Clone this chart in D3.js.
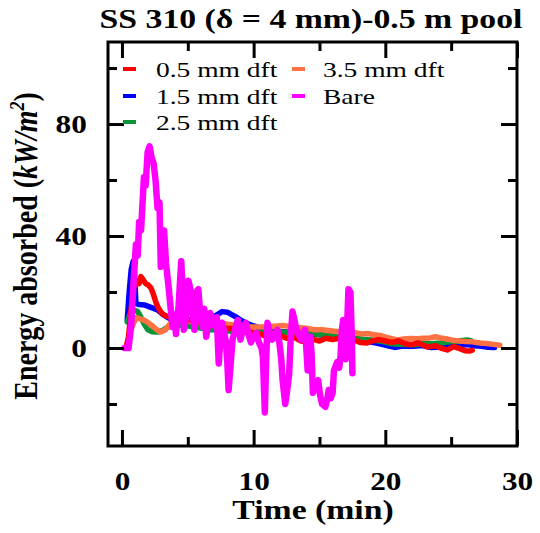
<!DOCTYPE html>
<html>
<head>
<meta charset="utf-8">
<script src="https://cdn.jsdelivr.net/npm/d3@7"></script>
<style>
  body { margin: 0; background: #fff; }
  svg text { font-family: "Liberation Serif", "Times New Roman", serif; fill: #000; }
</style>
</head>
<body>
<script>
// ---------------------- DATA ----------------------
// [time (min), energy absorbed (kW/m2)]
const dft05 = [[0.3,0],[0.5,4],[0.7,14],[0.9,22],[1.1,24],[1.3,23],[1.44,25.5],[1.6,24.5],[1.8,23],[2.0,22.5],[2.2,21.5],[2.4,19],[2.6,16],[2.8,14],[3.0,12.5],[3.3,11.5],[3.7,11],[4.2,11],[4.7,10.5],[5.2,10],[5.8,9.5],[6.5,9],[7.0,8],[7.5,7.5],[8.0,7],[8.5,7],[9.0,6.5],[9.5,6],[10,5.5],[10.5,5],[11,4],[11.5,4.5],[12,4.5],[12.5,3.5],[13,4],[13.6,2.5],[14.0,2.2],[14.6,3],[15,2.5],[15.5,3.5],[16,3],[16.5,3.5],[17.1,3.5],[17.6,3],[18.1,2],[18.6,1.8],[19,2.5],[19.5,3],[20,2.5],[20.5,2],[21,2.5],[21.5,1.5],[22,1.2],[22.5,1.8],[23.2,0.4],[23.8,0.8],[24.2,0],[24.7,-0.7],[25.2,0.5],[25.7,-0.3],[26.1,-1],[26.4,-1.1],[26.6,-0.8]];
const dft15 = [[0.4,10],[0.55,20],[0.7,28],[0.85,31],[0.95,27],[1.06,16],[1.3,15.5],[1.7,15.4],[2.2,14.5],[2.7,13.6],[3.1,12],[3.5,10.8],[4.2,9.3],[5.0,9],[5.8,9.3],[6.3,9.5],[6.7,10],[7.1,11.5],[7.6,13],[8.0,12.8],[8.3,12],[8.7,11],[9.0,10],[9.4,9],[9.8,8.2],[10.4,7.3],[11,6.5],[11.6,6],[12.2,5.8],[13,5.5],[13.6,5.3],[14.3,5],[15,4.7],[15.7,4.3],[16.5,3.8],[17.2,3.2],[18,2.6],[18.8,2.2],[19.5,1.6],[20.2,0.8],[20.7,0.2],[21.2,0.6],[22.1,0.6],[22.8,0.9],[23.5,0.2],[24.2,0.4],[24.8,0.8],[25.5,1],[26.2,1.2],[26.8,0.8],[27.3,0.6],[27.8,0.3],[28.3,0.2]];
const dft25 = [[0.4,9.3],[0.6,12],[0.9,13.6],[1.2,13],[1.44,11],[1.7,8.5],[1.97,6.5],[2.3,5.8],[2.7,5.7],[3.1,6.3],[3.5,7.5],[4.2,8.2],[4.8,8],[5.5,7.5],[6.1,7],[6.7,6.5],[7.5,6.3],[8.3,6],[9,5.8],[9.8,5.6],[10.5,5.5],[11.3,5.6],[12,5.7],[12.8,5.5],[13.6,5.4],[14.3,5.2],[15,4.8],[15.7,4.5],[16.4,4],[17.1,3.6],[17.8,3.5],[18.5,3],[19.2,2.8],[19.9,2.2],[20.5,1.5],[21.2,1.3],[22.1,1.2],[22.8,1.5],[23.5,1.5],[24.2,1.8],[24.9,2.2],[25.5,2.5],[26.2,2.9],[26.5,2.6]];
const dft35 = [[0.5,4],[0.8,8],[1.06,10.8],[1.3,10.5],[1.67,10],[2.0,9],[2.4,7.5],[2.7,6.3],[2.95,5.7],[3.3,6.5],[3.7,9],[4.2,10],[4.8,9.8],[5.5,9.3],[6.3,9],[7.3,9],[8.0,8.5],[8.8,8],[9.8,7.5],[10.5,7.5],[11.3,7.7],[12.3,8],[13,7.5],[13.6,7.2],[14.1,7],[14.6,6.5],[15.2,6.5],[15.8,6.2],[16.5,5.8],[17.1,5.4],[17.6,5.6],[18.2,5],[18.7,5.2],[19.1,4.7],[19.6,4.5],[20.1,3.8],[20.5,3.3],[20.9,2.9],[21.4,3.2],[21.9,3.4],[22.4,3.3],[22.9,3.5],[23.4,3.6],[23.8,4],[24.2,3.6],[24.6,3.3],[25.1,2.8],[25.6,2.5],[26.1,2.3],[26.6,2.2],[27.2,1.8],[27.7,1.6],[28.2,1.3],[28.7,1]];
const bare = [[0.2,0],[0.5,0],[0.7,8],[0.9,25],[1.06,37],[1.2,33],[1.3,45],[1.45,42],[1.67,61],[1.8,58],[1.95,70],[2.1,72],[2.25,68],[2.4,66],[2.55,60],[2.7,50],[2.85,52],[2.95,29],[3.05,35],[3.2,42],[3.35,30],[3.56,21],[3.7,14],[3.86,7.5],[4.0,12],[4.1,5],[4.3,15],[4.5,31],[4.6,22],[4.7,6.5],[4.9,12],[5.05,24],[5.2,21],[5.35,14],[5.5,6.5],[5.65,20],[5.8,21],[5.95,12],[6.1,7.5],[6.25,14],[6.4,4],[6.55,9],[6.7,12.5],[6.9,9],[7.1,7.5],[7.2,11],[7.35,-5.5],[7.5,5],[7.6,9],[7.75,6],[7.9,2],[8.0,-5],[8.1,-15],[8.25,-6],[8.4,3],[8.6,7],[8.8,10],[9.0,3],[9.2,7],[9.4,9],[9.6,5],[9.8,2],[10.0,4],[10.2,5.4],[10.4,2],[10.6,0],[10.7,-3],[10.85,-23],[10.95,-5],[11.05,9],[11.2,6],[11.4,3],[11.6,4],[11.8,6.5],[11.95,2],[12.1,-4],[12.2,-11.5],[12.4,-20],[12.55,-15],[12.7,-9],[12.8,2],[12.95,13],[13.1,10],[13.2,7.5],[13.4,5],[13.6,3],[13.75,4],[13.9,6.5],[14.0,0],[14.1,-8],[14.3,4],[14.4,-2],[14.5,-16],[14.7,-13],[14.9,-11.5],[15.05,-17],[15.2,-20],[15.45,-21],[15.6,-18],[15.7,-15],[15.85,-18],[16.0,-16],[16.1,-8],[16.35,-5],[16.5,-7],[16.6,-3],[16.7,6.5],[16.8,10],[16.9,3],[17.0,-4],[17.1,8],[17.2,21],[17.35,20],[17.45,5],[17.5,-9]];

const seriesNames = ["0.5 mm dft", "1.5 mm dft", "2.5 mm dft", "3.5 mm dft", "Bare"];
const seriesColors = ["#ff0000", "#0000ff", "#0a9438", "#ff7043", "#ff00ff"];
const xMajorTicks = [0, 10, 20, 30];
const xMinorTicks = [5, 15, 25];
const yMajorTicks = [0, 40, 80];
const yMinorTicks = [-20, 20, 60, 100];

// ---------------------- SETUP ----------------------
const width = 540, height = 533;
const plot = { left: 108, right: 517, top: 42, bottom: 446 };
const stretch = "scale(1.25,1)";  // reference text is wider than it is tall

const svg = d3.select("body").append("svg")
    .attr("width", width)
    .attr("height", height);

const x = d3.scaleLinear().domain([-1.06, 30]).range([plot.left, plot.right]);
const y = d3.scaleLinear().domain([-35, 109.3]).range([plot.bottom, plot.top]);

// ---------------------- LINES ----------------------
const line = d3.line().x(d => x(d[0])).y(d => y(d[1]));
const allSeries = [dft05, dft15, dft25, dft35, bare];
const drawOrder = [1, 2, 3, 0, 4];

svg.append("defs").append("clipPath").attr("id", "clip")
    .append("rect")
    .attr("x", plot.left).attr("y", plot.top)
    .attr("width", plot.right - plot.left).attr("height", plot.bottom - plot.top);

const lines = svg.append("g").attr("clip-path", "url(#clip)");
drawOrder.forEach(i => {
    lines.append("path")
        .datum(allSeries[i])
        .attr("fill", "none")
        .attr("stroke", seriesColors[i])
        .attr("stroke-width", i === 4 ? 6.5 : 5.5)
        .attr("stroke-linejoin", "round")
        .attr("stroke-linecap", "round")
        .attr("d", line);
});

// ---------------------- AXES ----------------------
function styleAxis(g) {
    g.select(".domain").remove();
    g.selectAll(".tick line").attr("stroke", "#000").attr("stroke-width", 3);
}

// bottom
svg.append("g").attr("transform", `translate(0,${plot.bottom})`)
    .call(d3.axisBottom(x).tickValues(xMajorTicks).tickSize(-16).tickFormat(d3.format("d")))
    .call(styleAxis)
    .call(g => g.selectAll(".tick text")
        .attr("y", 44).attr("dy", null)
        .attr("transform", stretch)
        .style("font-size", "25px").style("font-weight", "bold").style("font-family", "Liberation Serif"));
svg.append("g").attr("transform", `translate(0,${plot.bottom})`)
    .call(d3.axisBottom(x).tickValues(xMinorTicks).tickSize(-9).tickFormat(""))
    .call(styleAxis);

// top
svg.append("g").attr("transform", `translate(0,${plot.top})`)
    .call(d3.axisTop(x).tickValues(xMajorTicks).tickSize(-16).tickFormat(""))
    .call(styleAxis);
svg.append("g").attr("transform", `translate(0,${plot.top})`)
    .call(d3.axisTop(x).tickValues(xMinorTicks).tickSize(-9).tickFormat(""))
    .call(styleAxis);

// left
svg.append("g").attr("transform", `translate(${plot.left},0)`)
    .call(d3.axisLeft(y).tickValues(yMajorTicks).tickSize(-16).tickFormat(d3.format("d")))
    .call(styleAxis)
    .call(g => g.selectAll(".tick text")
        .attr("x", -17).attr("dy", "0.35em")
        .attr("transform", stretch)
        .style("font-size", "25px").style("font-weight", "bold").style("font-family", "Liberation Serif"));
svg.append("g").attr("transform", `translate(${plot.left},0)`)
    .call(d3.axisLeft(y).tickValues(yMinorTicks).tickSize(-9).tickFormat(""))
    .call(styleAxis);

// right
svg.append("g").attr("transform", `translate(${plot.right},0)`)
    .call(d3.axisRight(y).tickValues(yMajorTicks).tickSize(-16).tickFormat(""))
    .call(styleAxis);
svg.append("g").attr("transform", `translate(${plot.right},0)`)
    .call(d3.axisRight(y).tickValues(yMinorTicks).tickSize(-9).tickFormat(""))
    .call(styleAxis);

// frame
svg.append("rect")
    .attr("x", plot.left).attr("y", plot.top)
    .attr("width", plot.right - plot.left).attr("height", plot.bottom - plot.top)
    .attr("fill", "none").attr("stroke", "#000").attr("stroke-width", 3);

// ---------------------- TEXT ----------------------
svg.append("text")
    .attr("transform", `translate(311,28) ${stretch}`)
    .attr("text-anchor", "middle")
    .style("font-size", "27px").style("font-weight", "bold")
    .text("SS 310 (\u03b4 = 4 mm)-0.5 m pool");

svg.append("text")
    .attr("transform", `translate(313,519) ${stretch}`)
    .attr("text-anchor", "middle")
    .style("font-size", "27px").style("font-weight", "bold")
    .text("Time (min)");

// rotated label: stretch the glyph height, which runs along the screen x
const yLabel = svg.append("text")
    .attr("transform", "translate(37,246) rotate(-90) scale(1,1.2)")
    .attr("text-anchor", "middle")
    .style("font-size", "28px").style("font-weight", "bold");
yLabel.append("tspan").text("Energy absorbed (");
yLabel.append("tspan").style("font-style", "italic").text("kW/m");
yLabel.append("tspan").style("font-style", "italic").style("font-size", "18px")
    .attr("dy", -11).text("2");
yLabel.append("tspan").attr("dy", 11).text(")");

// ---------------------- LEGEND ----------------------
const legendPos = [
    { mx: 123, tx: 156, y: 77 },
    { mx: 123, tx: 156, y: 104 },
    { mx: 123, tx: 156, y: 130 },
    { mx: 292, tx: 323, y: 77 },
    { mx: 292, tx: 323, y: 104 }
];
const legend = svg.append("g");
seriesNames.forEach((name, i) => {
    const p = legendPos[i];
    legend.append("line")
        .attr("x1", p.mx).attr("x2", p.mx + 13)
        .attr("y1", p.y - 8).attr("y2", p.y - 8)
        .attr("stroke", seriesColors[i]).attr("stroke-width", 4);
    legend.append("text")
        .attr("transform", `translate(${p.tx},${p.y}) ${stretch}`)
        .style("font-size", "22px")
        .text(name);
});
</script>
</body>
</html>
